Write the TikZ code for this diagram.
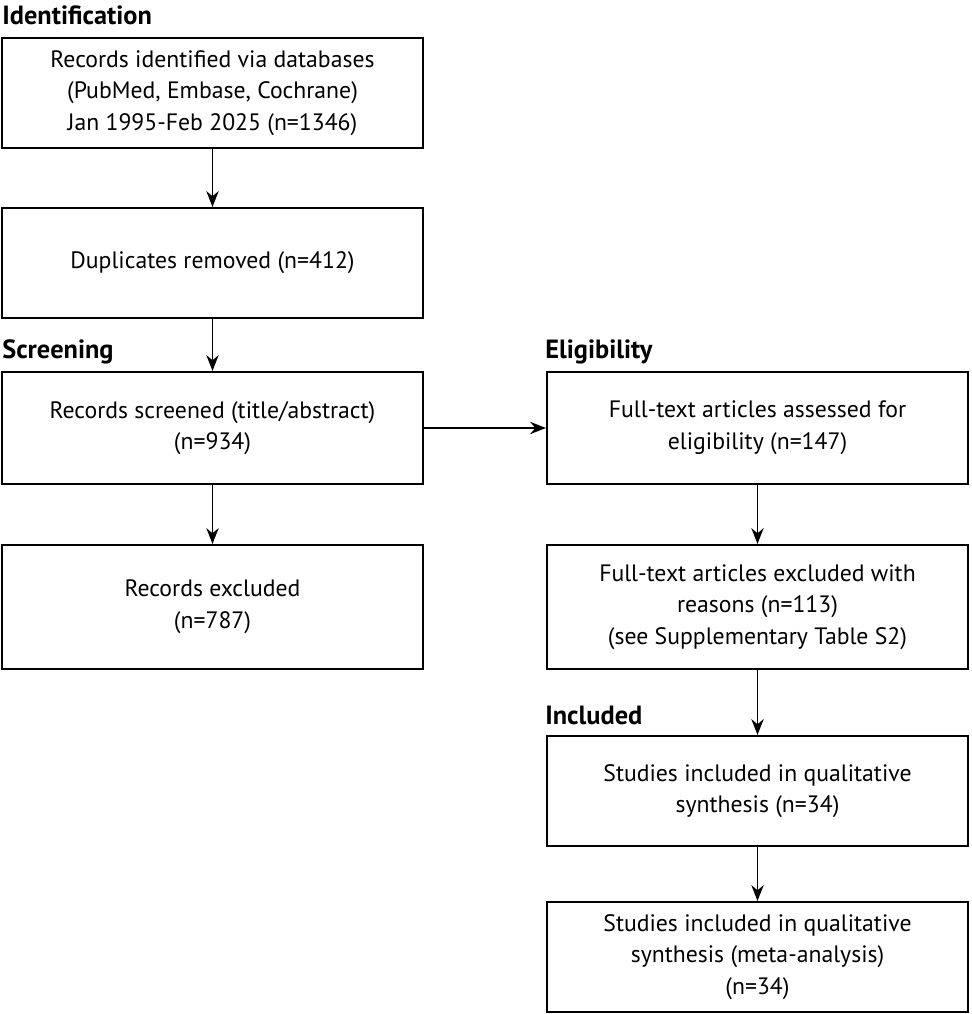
\documentclass[tikz,border=0pt]{standalone}
\usepackage{fontspec}
\setmainfont{PT Sans}
\usetikzlibrary{arrows.meta,positioning}
\tikzset{
  box/.style={draw, line width=1.2pt, minimum width=421\pxu, align=center, font=\fontsize{13.5}{18}\selectfont, inner sep=2pt},
  stage/.style={anchor=west, font=\fontsize{15}{18}\selectfont\bfseries, inner sep=0pt},
  link/.style={-{Stealth[length=9pt,width=7pt]}, line width=1pt}
}
\newlength{\pxu}\setlength{\pxu}{0.02cm}
\begin{document}
\begin{tikzpicture}[x=0.02cm, y=-0.02cm]
  \useasboundingbox (0,0) rectangle (972,1014);
  % Stage headings
  \node[stage] (hid) at (2,15) {Identification};
  \node[stage] (hsc) at (2,352) {Screening};
  \node[stage] (hel) at (545,352) {Eligibility};
  \node[stage] (hin) at (545,715) {Included};

  % Left column
  \node[box, minimum height=110\pxu] (ident) at (212.5,93) {Records identified via databases\\(PubMed, Embase, Cochrane)\\Jan 1995-Feb 2025 (n=1346)};
  \node[box, minimum height=110\pxu] (dupl) at (212.5,263) {Duplicates removed (n=412)};
  \node[box, minimum height=112\pxu] (screen) at (212.5,428) {Records screened (title/abstract)\\(n=934)};
  \node[box, minimum height=124\pxu] (excl) at (212.5,607) {Records excluded\\(n=787)};

  % Right column
  \node[box, minimum height=112\pxu] (full) at (757.5,428) {Full-text articles assessed for\\eligibility (n=147)};
  \node[box, minimum height=124\pxu] (fexcl) at (757.5,607) {Full-text articles excluded with\\reasons (n=113)\\(see Supplementary Table S2)};
  \node[box, minimum height=110\pxu] (qual) at (757.5,791) {Studies included in qualitative\\synthesis (n=34)};
  \node[box, minimum height=110\pxu] (meta) at (757.5,957) {Studies included in qualitative\\synthesis (meta-analysis)\\(n=34)};

  % Connectors
  \draw[link] (ident) -- (dupl);
  \draw[link] (dupl) -- (screen);
  \draw[link] (screen) -- (excl);
  \draw[link] (screen) -- (full);
  \draw[link] (full) -- (fexcl);
  \draw[link] (fexcl) -- (qual);
  \draw[link] (qual) -- (meta);
\end{tikzpicture}
\end{document}
